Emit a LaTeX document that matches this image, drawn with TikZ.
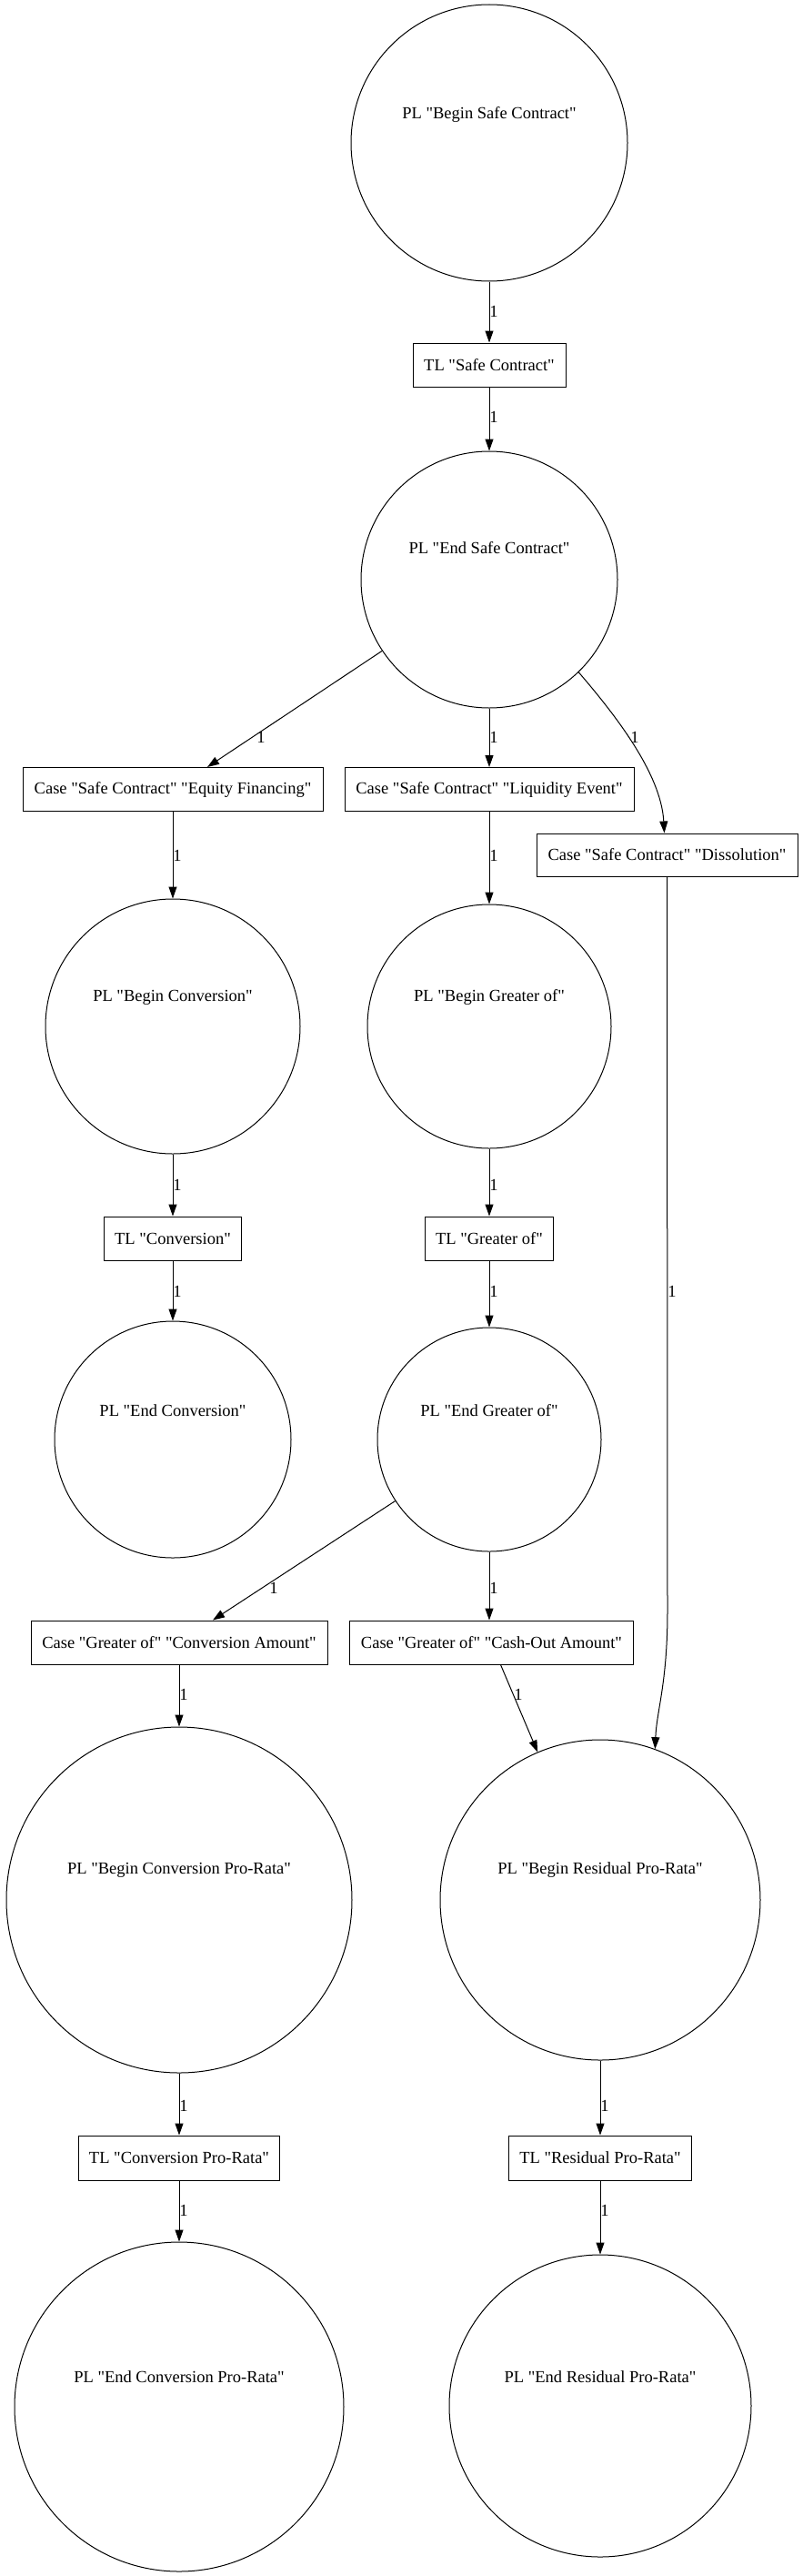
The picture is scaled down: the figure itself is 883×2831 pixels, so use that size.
\documentclass[tikz,border=0pt]{standalone}
\usepackage{fontspec}
\newfontfamily\gvfont{Liberation Serif}
\usetikzlibrary{arrows.meta}
\begin{document}
\begin{tikzpicture}[x=1pt,y=-1pt,
  every node/.style={font=\gvfont\fontsize{18.5}{22}\selectfont},
  pl/.style={circle,draw,line width=1pt,minimum size=#1,inner sep=0pt},
  tbox/.style={rectangle,draw,line width=1pt,minimum width=#1,minimum height=48pt,inner sep=0pt},
  arr/.style={line width=1pt,-{Triangle[length=13pt,width=9pt]}},
  lbl/.style={inner sep=0pt}]
\useasboundingbox (0,0) rectangle (883,2831);
% places and transitions
\node[pl=304pt,label={[yshift=31pt]center:PL "Begin Safe Contract"}] (c1) at (538,157) {};
\node[tbox=168pt] (tl1) at (538,401) {TL "Safe Contract"};
\node[pl=282pt,label={[yshift=35pt]center:PL "End Safe Contract"}] (c2) at (538,637) {};
\node[tbox=330pt] (eq) at (190,867.5) {Case "Safe Contract" "Equity Financing"};
\node[tbox=318pt] (liq) at (538,867.5) {Case "Safe Contract" "Liquidity Event"};
\node[tbox=287pt,minimum height=47pt] (dis) at (733.5,939.5) {Case "Safe Contract" "Dissolution"};
\node[pl=280pt,label={[yshift=32pt]center:PL "Begin Conversion"}] (bc) at (190,1128) {};
\node[pl=268pt,label={[yshift=32pt]center:PL "Begin Greater of"}] (bg) at (538,1128) {};
\node[tbox=151pt] (tlc) at (190,1361) {TL "Conversion"};
\node[tbox=141pt] (tlg) at (538,1361) {TL "Greater of"};
\node[pl=260pt,label={[yshift=32pt]center:PL "End Conversion"}] (ec) at (190,1582) {};
\node[pl=246pt,label={[yshift=32pt]center:PL "End Greater of"}] (eg) at (538,1582) {};
\node[tbox=326pt] (ca) at (197,1805) {Case "Greater of" "Conversion Amount"};
\node[tbox=312pt] (co) at (540.5,1805) {Case "Greater of" "Cash-Out Amount"};
\node[pl=380pt,label={[yshift=33pt]center:PL "Begin Conversion Pro-Rata"}] (bcp) at (197,2088) {};
\node[pl=352pt,label={[yshift=33pt]center:PL "Begin Residual Pro-Rata"}] (brp) at (660,2088) {};
\node[tbox=221pt,minimum height=49pt] (tcp) at (197,2371.5) {TL "Conversion Pro-Rata"};
\node[tbox=201pt,minimum height=49pt] (trp) at (660,2371.5) {TL "Residual Pro-Rata"};
\node[pl=362pt,label={[yshift=33pt]center:PL "End Conversion Pro-Rata"}] (ecp) at (197,2645) {};
\node[pl=332pt,label={[yshift=32pt]center:PL "End Residual Pro-Rata"}] (erp) at (660,2644) {};
% arcs
\draw[arr] (c1) -- (tl1) node[lbl] at (543,342) {1};
\draw[arr] (tl1) -- (c2) node[lbl] at (543,458) {1};
\draw[arr] (c2) -- ([xshift=38pt]eq.north) node[lbl] at (287,810) {1};
\draw[arr] (c2) -- (liq) node[lbl] at (543,810) {1};
\draw[arr] (c2.314) .. controls (676,785) and (727,850) .. ([xshift=-3pt]dis.north) node[lbl] at (698,810) {1};
\draw[arr] (eq) -- (bc) node[lbl] at (195,940) {1};
\draw[arr] (liq) -- (bg) node[lbl] at (543,940) {1};
\draw[arr] (bc) -- (tlc) node[lbl] at (195,1302) {1};
\draw[arr] (bg) -- (tlg) node[lbl] at (543,1302) {1};
\draw[arr] (tlc) -- (ec) node[lbl] at (195,1419) {1};
\draw[arr] (tlg) -- (eg) node[lbl] at (543,1419) {1};
\draw[arr] (dis.south) -- (734,1770) .. controls (734,1850) and (722,1880) .. (brp.70) node[lbl] at (739,1419) {1};
\draw[arr] (eg) -- ([xshift=37pt]ca.north) node[lbl] at (301,1745) {1};
\draw[arr] (eg.south) -- (eg.south |- co.north) node[lbl] at (543,1745) {1};
\draw[arr] (ca) -- (bcp) node[lbl] at (202,1862) {1};
\draw[arr] ([xshift=10pt]co.south) -- (brp) node[lbl] at (570,1862) {1};
\draw[arr] (bcp) -- (tcp) node[lbl] at (202,2314) {1};
\draw[arr] (brp) -- (trp) node[lbl] at (665,2314) {1};
\draw[arr] (tcp) -- (ecp) node[lbl] at (202,2429) {1};
\draw[arr] (trp) -- (erp) node[lbl] at (665,2429) {1};
\end{tikzpicture}
\end{document}
